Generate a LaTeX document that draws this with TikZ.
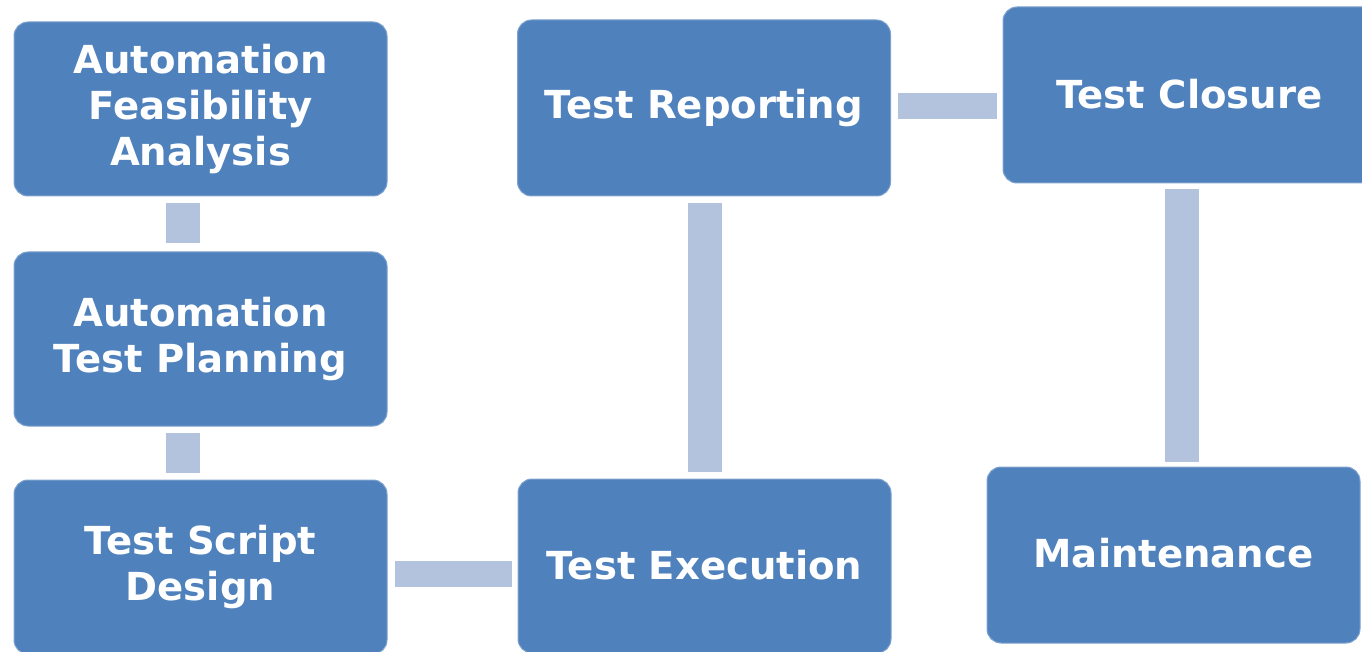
\documentclass[tikz,border=0pt]{standalone}
\usepackage{fontspec}
\setmainfont{DejaVu Sans}
\begin{document}
\begin{tikzpicture}[x=1pt,y=1pt,
  stage/.style={draw=boxedge, line width=1pt, fill=boxfill, rounded corners=14pt,
    minimum width=373pt, minimum height=174pt, inner sep=0pt, text=white,
    align=center, font=\fontsize{38.6}{46}\selectfont\bfseries},
  vlink/.style={draw=linkfill, line width=34pt, line cap=butt},
  hlink/.style={draw=linkfill, line width=26pt, line cap=butt}]
\definecolor{boxfill}{HTML}{4F81BD}
\definecolor{boxedge}{HTML}{7FA3CF}
\definecolor{linkfill}{HTML}{B3C2DD}
\useasboundingbox (0,0) rectangle (1362,-652);

% stages
\node[stage] (feas) at (200.5,-109) {Automation\\Feasibility\\Analysis};
\node[stage] (plan) at (200.5,-339) {Automation\\Test Planning};
\node[stage] (design) at (200.5,-567) {Test Script\\Design};
\node[stage] (exec) at (704.5,-566) {\raisebox{2pt}{Test Execution}};
\node[stage, minimum height=176pt] (report) at (704,-108) {Test Reporting};
\node[stage, minimum height=176pt] (closure) at (1189.5,-95) {\raisebox{3pt}{Test Closure}};
\node[stage, minimum height=176pt] (maint) at (1173.5,-555) {\raisebox{4pt}{Maintenance}};

% links between stages
\draw[vlink] ([xshift=-17.5pt,yshift=-7pt]feas.south) -- ([xshift=-17.5pt,yshift=8pt]plan.north);
\draw[vlink] ([xshift=-17.5pt,yshift=-6pt]plan.south) -- ([xshift=-17.5pt,yshift=7pt]design.north);
\draw[hlink] ([xshift=7pt,yshift=-7pt]design.east) -- ([xshift=-6pt,yshift=-8pt]exec.west);
\draw[vlink] ([yshift=7pt]exec.north) -- ([xshift=0.5pt,yshift=-7pt]report.south);
\draw[hlink] ([xshift=7pt,yshift=2pt]report.east) -- ([xshift=-6pt,yshift=-11pt]closure.west);
\draw[vlink] ([xshift=-8pt,yshift=-6pt]closure.south) -- ([xshift=8pt,yshift=5pt]maint.north);
\end{tikzpicture}
\end{document}
